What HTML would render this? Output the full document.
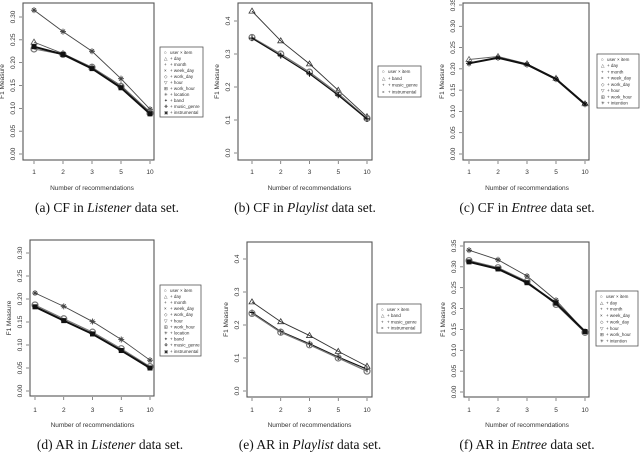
<!DOCTYPE html>
<html><head><meta charset="utf-8">
<style>
body{margin:0;background:#fff;width:640px;height:454px;overflow:hidden}
svg{display:block}
.t{font-family:"Liberation Sans",sans-serif;fill:#333}
.cap{font-family:"Liberation Serif",serif;font-size:13.5px;fill:#111}
</style></head>
<body>
<svg id="fig" width="640" height="454" viewBox="0 0 640 454"></svg>
<script>
const categories=["1","2","3","5","10"];
// panel a: CF Listener
const aTop=[0.315,0.268,0.225,0.165,0.098];
const aMid=[0.245,0.220,0.190,0.150,0.092];
const aBase=[0.230,0.218,0.190,0.148,0.090];
const aHeavy=[0.235,0.218,0.187,0.145,0.088];
// panel b: CF Playlist
const bTop=[0.430,0.340,0.270,0.190,0.110];
const bBase=[0.350,0.300,0.245,0.180,0.105];
const bHeavy=[0.348,0.295,0.240,0.175,0.103];
// panel c: CF Entree
const cTop=[0.222,0.229,0.212,0.178,0.118];
const cBase=[0.213,0.226,0.210,0.176,0.117];
// panel d: AR Listener
const dTop=[0.213,0.184,0.151,0.112,0.067];
const dBase=[0.187,0.157,0.128,0.092,0.053];
const dHeavy=[0.183,0.153,0.124,0.088,0.050];
// panel e: AR Playlist
const eTop=[0.270,0.210,0.168,0.120,0.075];
const eMid=[0.238,0.180,0.143,0.103,0.066];
const eBase=[0.235,0.178,0.140,0.100,0.060];
// panel f: AR Entree
const fTop=[0.340,0.317,0.278,0.220,0.145];
const fBase=[0.315,0.298,0.265,0.210,0.143];
const fHeavy=[0.312,0.295,0.262,0.213,0.145];
const ticksA=["0.00","0.05","0.10","0.15","0.20","0.25","0.30"];
const ticksB=["0.0","0.1","0.2","0.3","0.4"];
const ticksC=["0.00","0.05","0.10","0.15","0.20","0.25","0.30","0.35"];
const legListener=["user \u00d7 item","+ day","+ month","+ week_day","+ work_day","+ hour","+ work_hour","+ location","+ band","+ music_genre","+ instrumental"];
const legPlaylist=["user \u00d7 item","+ band","+ music_genre","+ instrumental"];
const legEntree=["user \u00d7 item","+ day","+ month","+ week_day","+ work_day","+ hour","+ work_hour","+ intention"];
const symbols=["\u25cb","\u25b3","+","\u00d7","\u25c7","\u25bd","\u229e","\u2733","\u2726","\u2756","\u25a3"];

const NS="http://www.w3.org/2000/svg";
const svg=document.getElementById('fig');
function el(tag,attrs,parent){const e=document.createElementNS(NS,tag);for(const k in attrs)e.setAttribute(k,attrs[k]);(parent||svg).appendChild(e);return e;}

const panels=[
 {id:'a',box:[23,3,154,160],x1:34,x10:150,y0:154,ymax:0.30,yTop:17,ticks:ticksA,leg:legListener,lb:[160,47,204,117],
  series:[[aTop,'#444',0.9,'star'],[aMid,'#555',0.9,'tri'],[aBase,'#777',1.1,'circ'],[aHeavy,'#111',2,'sq']],
  cap:['(a) CF in ','Listener',' data set.'],capx:107,capy:212,xt:172,xtitle:188},
 {id:'b',box:[238,3,372,160],x1:252,x10:367,y0:153,ymax:0.4,yTop:21,ticks:ticksB,leg:legPlaylist,lb:[378,66,422,97],
  series:[[bTop,'#333',0.9,'tri'],[bBase,'#777',1.3,'circ'],[bHeavy,'#111',1.2,'plus']],
  cap:['(b) CF in ','Playlist',' data set.'],capx:305,capy:212,xt:172,xtitle:188},
 {id:'c',box:[463,3,589,160],x1:469,x10:585,y0:154,ymax:0.35,yTop:5,ticks:ticksC,leg:legEntree,lb:[597,54,640,108],
  series:[[cTop,'#666',0.9,'tri'],[cBase,'#111',2,'star']],
  cap:['(c) CF in ','Entree',' data set.'],capx:527,capy:212,xt:172,xtitle:188},
 {id:'d',box:[30,240,154,396],x1:35,x10:150,y0:391,ymax:0.30,yTop:253,ticks:ticksA,leg:legListener,lb:[160,285,202,356],
  series:[[dTop,'#444',0.9,'star'],[dBase,'#777',1.1,'circ'],[dHeavy,'#111',2,'sq']],
  cap:['(d) AR in ','Listener',' data set.'],capx:110,capy:449,xt:410,xtitle:425},
 {id:'e',box:[247,242,372,397],x1:252,x10:367,y0:391,ymax:0.4,yTop:259,ticks:ticksB,leg:legPlaylist,lb:[377,304,422,333],
  series:[[eTop,'#333',0.9,'tri'],[eMid,'#111',1.2,'plus'],[eBase,'#777',1.3,'circ']],
  cap:['(e) AR in ','Playlist',' data set.'],capx:310,capy:449,xt:410,xtitle:425},
 {id:'f',box:[464,242,589,397],x1:469,x10:585,y0:392,ymax:0.35,yTop:246,ticks:ticksC,leg:legEntree,lb:[596,291,639,346],
  series:[[fTop,'#444',0.9,'star'],[fBase,'#777',1.3,'circ'],[fHeavy,'#111',2,'sq']],
  cap:['(f) AR in ','Entree',' data set.'],capx:527,capy:449,xt:410,xtitle:425}
];

function marker(g,type,x,y,c){
  let m;
  if(type==='circ'){m=el('circle',{cx:x,cy:y,r:3,fill:'none',stroke:c,'stroke-width':1.2},g);}
  else if(type==='tri'){m=el('path',{d:`M${x} ${y-3}L${x+3} ${y+2}L${x-3} ${y+2}Z`,fill:'none',stroke:c,'stroke-width':0.8},g);}
  else if(type==='plus'){m=el('path',{d:`M${x-3} ${y}H${x+3}M${x} ${y-3}V${y+3}`,stroke:c,'stroke-width':1},g);}
  else if(type==='star'){m=el('path',{d:`M${x-3} ${y}H${x+3}M${x} ${y-3}V${y+3}M${x-2} ${y-2}L${x+2} ${y+2}M${x+2} ${y-2}L${x-2} ${y+2}`,stroke:c,'stroke-width':0.9},g);}
  else {m=el('rect',{x:x-2.5,y:y-2.5,width:5,height:5,fill:c},g);}
  
  
}

panels.forEach(p=>{
  const g=el('g',{});
  
  
  const [L,T,R,B]=p.box;
  const xs=i=>p.x1+(p.x10-p.x1)*i/(categories.length-1);
  const ys=v=>p.y0-(p.y0-p.yTop)*v/p.ymax;
  const fr=el('rect',{x:L,y:T,width:R-L,height:B-T,fill:'none',stroke:'#555','stroke-width':1.1},g);
  
  p.ticks.forEach(t=>{
    const y=ys(parseFloat(t));
    el('line',{x1:L-4,x2:L-1,y1:y,y2:y,stroke:'#555','stroke-width':0.7},g);
    const tx=el('text',{x:L-8,y:y,class:'t','font-size':6.5,'text-anchor':'middle',transform:`rotate(-90 ${L-8} ${y})`},g);
    tx.textContent=t;
    
  });
  categories.forEach((c,i)=>{
    const x=xs(i);
    el('line',{x1:x,x2:x,y1:B+1,y2:B+4,stroke:'#555','stroke-width':0.7},g);
    const tx=el('text',{x:x,y:p.xt+2,class:'t','font-size':6.5,'text-anchor':'middle'},g);
    tx.textContent=c;
    
  });
  const yt=el('text',{x:L-19,y:(T+B)/2,class:'t','font-size':6.5,'text-anchor':'middle',transform:`rotate(-90 ${L-19} ${(T+B)/2})`},g);
  yt.textContent='F1 Measure';
  
  const xt=el('text',{x:(p.x1+p.x10)/2,y:p.xtitle+2,class:'t','font-size':6.5,'text-anchor':'middle'},g);
  xt.textContent='Number of recommendations';
  
  p.series.forEach(([vals,c,w,mk])=>{
    const pts=vals.map((v,i)=>xs(i)+','+ys(v)).join(' ');
    const pl=el('polyline',{points:pts,fill:'none',stroke:c,'stroke-width':w},g);
    
    vals.forEach((v,i)=>marker(g,mk,xs(i),ys(v),c));
  });
  const [lx0,ly0,lx1,ly1]=p.lb;
  const lg=el('g',{},g);
  
  el('rect',{x:lx0,y:ly0,width:lx1-lx0-1,height:ly1-ly0,fill:'#fff',stroke:'#555','stroke-width':0.8},lg);
  const step=(ly1-ly0-4)/p.leg.length;
  p.leg.forEach((s,i)=>{
    const y=ly0+2+step*(i+0.5)+1.8;
    const sy=el('text',{x:lx0+4,y:y,class:'t','font-size':4.5},lg);
    sy.textContent=symbols[i%symbols.length];
    const tx=el('text',{x:lx0+10,y:y,class:'t','font-size':4.5},lg);
    tx.textContent=s;
    
  });
  const cp=el('text',{x:p.capx,y:p.capy,class:'cap','text-anchor':'middle'},g);
  
  const s1=el('tspan',{},cp);s1.textContent=p.cap[0];
  const s2=el('tspan',{'font-style':'italic'},cp);s2.textContent=p.cap[1];
  const s3=el('tspan',{},cp);s3.textContent=p.cap[2];
});
</script>
</body></html>
